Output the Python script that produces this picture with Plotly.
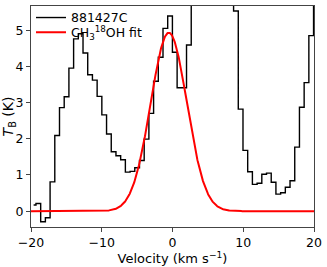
import numpy as np
import plotly.graph_objects as go

# Channel velocities (km/s), channel centres
v_start = -19.63
dv = 0.665
n_chan = 61
velocity = [round(v_start + dv * k, 3) for k in range(n_chan)]

# Brightness temperature per channel (K) (values > 5.7 are off-chart)
tb = [0.17, 0.21, -0.29, -0.18, 0.81, 2.09, 2.86, 3.16, 3.95, 4.76,
      4.90, 4.37, 3.77, 3.62, 3.17, 2.66, 2.13, 1.64, 1.53, 1.42,
      1.08, 1.10, 1.20, 1.40, 1.99, 2.70, 3.59, 4.25, 5.05, 5.39,
      4.39, 3.41, 3.41, 4.59, 6.8, 8.5, 10.2, 11.0, 10.5, 9.6,
      8.4, 7.3, 6.2, 5.53, 2.82, 1.68, 1.09, 0.74, 0.77, 1.02,
      1.05, 0.80, 0.47, 0.51, 0.66, 0.84, 1.77, 2.87, 3.55, 4.85,
      6.5]

# Gaussian fit parameters for CH3-18-OH
fit_amp = [4.93]
fit_center = [-0.52]
fit_sigma = [2.56]

x_ticks = [-20, -10, 0, 10, 20]
y_ticks = [0, 1, 2, 3, 4, 5]

vfit = np.linspace(-20, 20, 801)
tfit = fit_amp[0] * np.exp(-(vfit - fit_center[0]) ** 2 / (2 * fit_sigma[0] ** 2))

fig = go.Figure()
fig.add_trace(go.Scatter(x=velocity, y=tb, mode="lines", line_shape="hvh",
                         line=dict(color="black", width=1.4), name="881427C",
                         legend="legend"))
fig.add_trace(go.Scatter(x=vfit, y=tfit, mode="lines",
                         line=dict(color="red", width=2), name="CH<sub>3</sub><sup>18</sup>OH fit",
                         legend="legend2"))

axis_common = dict(showline=True, mirror=True, linecolor="#444", linewidth=1,
                   ticks="outside", ticklen=4, tickcolor="#444", showgrid=False,
                   zeroline=False, automargin=False,
                   tickfont=dict(family="DejaVu Sans", size=12.5, color="black"))

leg_common = dict(x=0.0, xanchor="left", bgcolor="rgba(0,0,0,0)",
                  font=dict(size=12.5), itemwidth=30)

fig.update_layout(
    width=327, height=267,
    margin=dict(l=31, r=13, t=3, b=40),
    plot_bgcolor="white", paper_bgcolor="white",
    font=dict(family="DejaVu Sans", size=12, color="black"),
    showlegend=True,
    legend=dict(y=1.014, yanchor="top", **leg_common),
    legend2=dict(y=0.879, yanchor="middle", **leg_common),
    xaxis=dict(range=[-20, 20], tickvals=x_ticks, ticktext=["\u221220", "\u221210", "0", "10", "20"],
               title=dict(text="Velocity (km s<sup>\u22121</sup>)", standoff=1, font=dict(size=13)),
               **axis_common),
    yaxis=dict(range=[-0.437, 5.667], tickvals=y_ticks,
               title=dict(text="<i>T</i><sub>B</sub> (K)", standoff=0, font=dict(size=14)),
               **axis_common),
)

fig.write_html("out.html", config={"displayModeBar": False},
               post_script="document.body.style.margin='0';document.body.style.overflow='hidden';")
